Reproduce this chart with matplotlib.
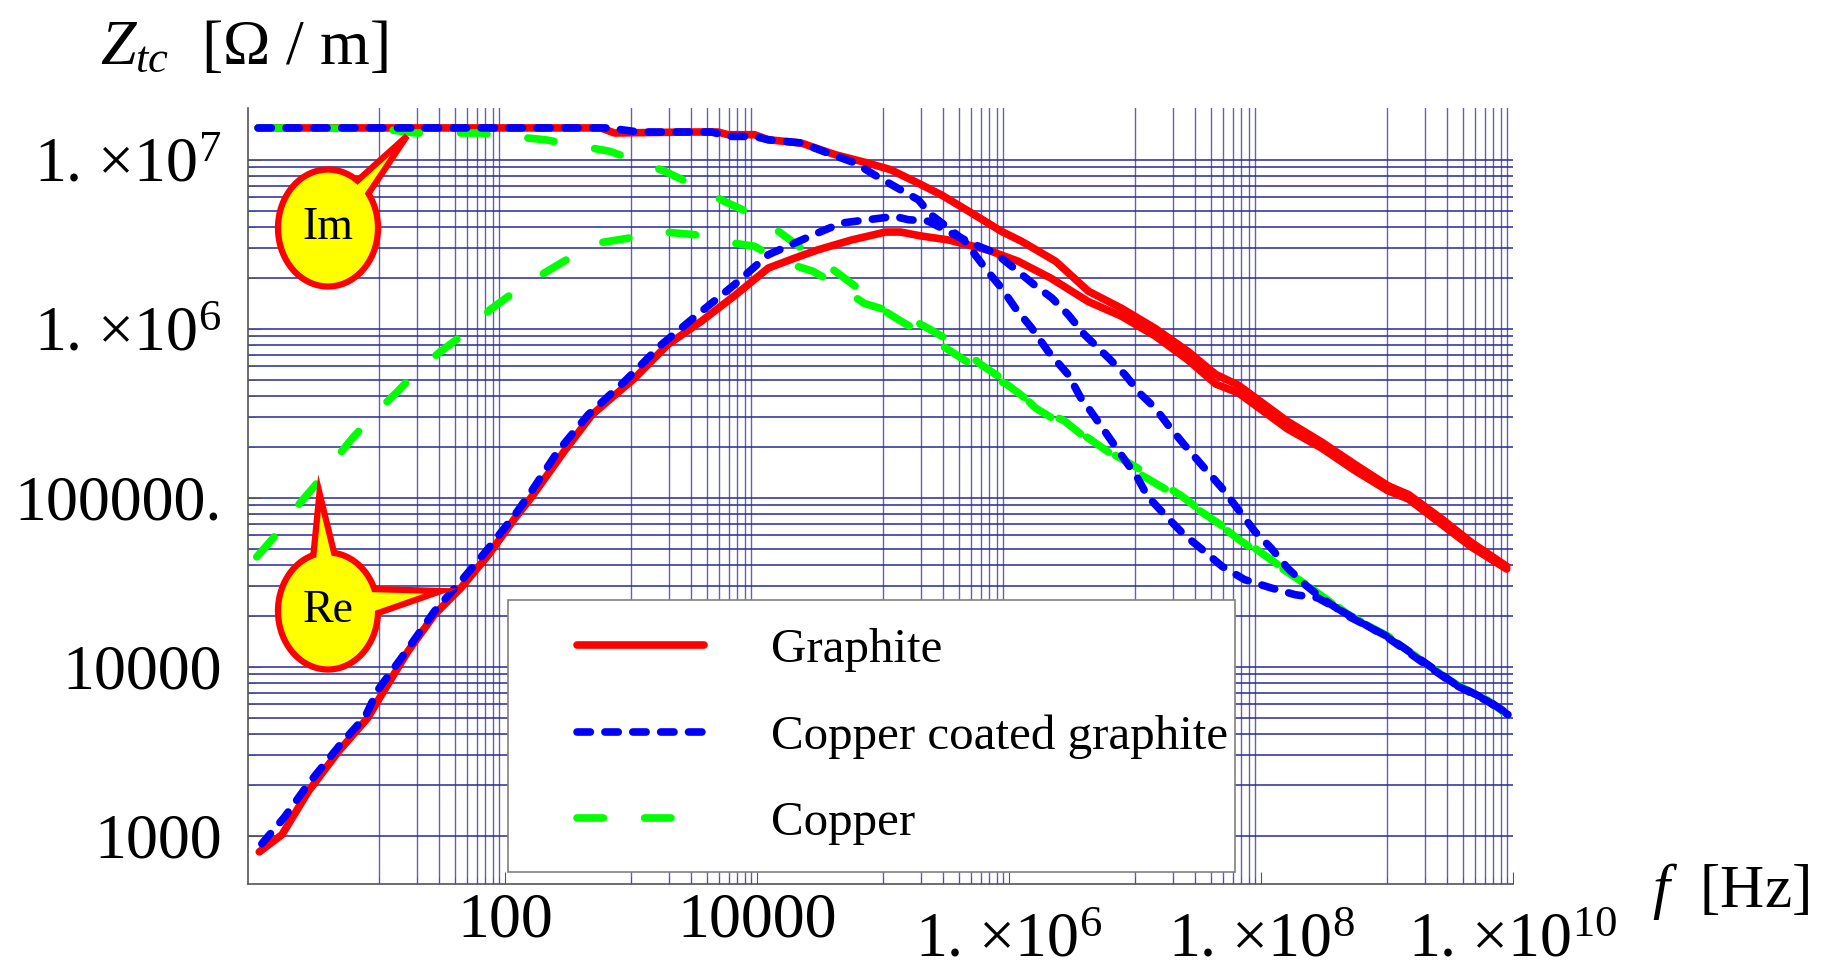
import numpy as np
import matplotlib
matplotlib.use('Agg')
import matplotlib.pyplot as plt
from matplotlib.patches import Polygon, Rectangle
from matplotlib.lines import Line2D
from matplotlib.ticker import NullFormatter
from matplotlib.transforms import Affine2D, blended_transform_factory

plt.rcParams['font.family'] = ['Liberation Serif', 'DejaVu Serif']
plt.rcParams['mathtext.fontset'] = 'custom'
plt.rcParams['mathtext.rm'] = 'Liberation Serif'
plt.rcParams['mathtext.it'] = 'Liberation Serif:italic'

# data, as log10(f [Hz]) and log10(Z [Ohm/m])
graphite_im_logf = [0.04, 2.76, 2.87, 3.47, 3.69, 3.77, 3.98, 4.09, 4.35, 4.62, 4.88, 5.06, 5.25, 5.46,
                    5.68, 5.94, 6.10, 6.37, 6.63, 6.89, 7.16, 7.42, 7.64, 7.82, 8.21, 8.48, 8.75, 9.01,
                    9.17, 9.43, 9.67, 9.95]
graphite_im_logz = [7.188, 7.188, 7.158, 7.164, 7.164, 7.148, 7.148, 7.118, 7.099, 7.030, 6.980, 6.941,
                    6.872, 6.793, 6.695, 6.576, 6.517, 6.399, 6.222, 6.122, 6.002, 5.866, 5.730, 5.666,
                    5.452, 5.330, 5.195, 5.070, 5.019, 4.877, 4.735, 4.594]

graphite_re_logf = [0.05, 0.23, 0.44, 0.68, 0.91, 1.02, 1.23, 1.44, 1.65, 1.87, 2.08, 2.21, 2.47, 2.69,
                    3.03, 3.29, 3.56, 3.83, 4.09, 4.30, 4.48, 4.75, 5.02, 5.14, 5.30, 5.52, 5.68, 5.83,
                    6.07, 6.33, 6.63, 6.89, 7.16, 7.42, 7.64, 7.82, 8.21, 8.48, 8.75, 9.01, 9.17, 9.43,
                    9.67, 9.95]
graphite_re_logz = [2.904, 3.006, 3.263, 3.500, 3.696, 3.834, 4.091, 4.308, 4.466, 4.663, 4.880, 5.003,
                    5.275, 5.491, 5.708, 5.905, 6.045, 6.200, 6.359, 6.418, 6.466, 6.525, 6.572, 6.572,
                    6.549, 6.525, 6.495, 6.466, 6.400, 6.300, 6.160, 6.075, 5.957, 5.815, 5.673, 5.620,
                    5.407, 5.294, 5.158, 5.040, 4.992, 4.844, 4.708, 4.578]

coated_im_logf = [0.04, 2.82, 3.06, 3.29, 3.64, 3.77, 3.98, 4.09, 4.35, 4.56, 4.78, 4.93, 5.09, 5.28,
                  5.38, 5.52, 5.65, 5.73, 5.83, 5.94, 6.05, 6.18, 6.31, 6.47, 6.57, 6.63, 6.76, 6.89,
                  7.02, 7.10, 7.26, 7.39, 7.55, 7.69, 7.87, 8.08, 8.27, 8.45, 8.69, 9.01, 9.27, 9.54,
                  9.80, 9.96]
coated_im_logz = [7.188, 7.188, 7.164, 7.164, 7.164, 7.138, 7.138, 7.118, 7.099, 7.040, 6.980, 6.911,
                  6.843, 6.763, 6.675, 6.596, 6.517, 6.438, 6.340, 6.241, 6.122, 6.004, 5.866, 5.728,
                  5.590, 5.531, 5.393, 5.254, 5.117, 5.008, 4.880, 4.781, 4.683, 4.594, 4.515, 4.466,
                  4.426, 4.407, 4.308, 4.170, 4.032, 3.893, 3.795, 3.716]

coated_re_logf = [0.07, 0.25, 0.44, 0.70, 0.89, 0.99, 1.18, 1.44, 1.65, 1.87, 2.08, 2.21, 2.42, 2.66,
                  2.95, 3.24, 3.56, 3.82, 4.09, 4.30, 4.48, 4.67, 4.88, 4.99, 5.09, 5.20, 5.36, 5.54,
                  5.73, 5.89, 6.07, 6.20, 6.34, 6.47, 6.60, 6.79, 6.92, 7.05, 7.16, 7.26, 7.39, 7.55,
                  7.69, 7.95, 8.08, 8.21, 8.35, 8.48, 8.69, 9.01, 9.27, 9.54, 9.80, 9.96]
coated_re_logz = [2.952, 3.110, 3.307, 3.546, 3.704, 3.861, 4.054, 4.328, 4.506, 4.702, 4.900, 5.038,
                  5.275, 5.491, 5.689, 5.905, 6.103, 6.260, 6.438, 6.507, 6.566, 6.625, 6.645, 6.655,
                  6.665, 6.645, 6.636, 6.566, 6.497, 6.448, 6.340, 6.260, 6.182, 6.083, 5.964, 5.827,
                  5.728, 5.609, 5.531, 5.432, 5.314, 5.176, 5.057, 4.801, 4.702, 4.584, 4.485, 4.407,
                  4.300, 4.176, 4.040, 3.897, 3.800, 3.720]

copper_im_logf = [0.04, 1.00, 1.29, 1.56, 1.81, 2.05, 2.32, 2.54, 2.83, 3.06, 3.27, 3.49, 3.74, 3.94,
                  4.17, 4.35, 4.58, 4.80, 5.00, 5.14, 5.37, 5.56, 5.78, 5.99, 6.23, 6.44, 6.63, 7.02,
                  7.37, 7.84, 8.48, 8.69, 9.01, 9.27, 9.54, 9.80, 9.96]
copper_im_logz = [7.188, 7.185, 7.158, 7.158, 7.158, 7.138, 7.118, 7.089, 7.050, 6.990, 6.931, 6.852,
                  6.754, 6.685, 6.576, 6.478, 6.363, 6.240, 6.110, 6.046, 5.945, 5.856, 5.750, 5.667,
                  5.531, 5.454, 5.341, 5.176, 5.010, 4.744, 4.425, 4.310, 4.176, 4.040, 3.900, 3.795,
                  3.710]

copper_re_logf = [0.03, 0.16, 0.33, 0.49, 0.65, 0.79, 0.97, 1.15, 1.31, 1.49, 1.72, 1.88, 2.10, 2.29,
                  2.51, 2.74, 2.99, 3.21, 3.51, 3.72, 3.98, 4.19, 4.44, 4.64, 4.85, 5.18, 5.38, 5.60,
                  5.78, 6.02, 6.21, 6.47, 6.63, 7.05, 7.37, 7.87, 8.48, 8.69, 9.01, 9.27, 9.54, 9.80,
                  9.96]
copper_re_logz = [4.650, 4.761, 4.931, 5.070, 5.225, 5.353, 5.501, 5.630, 5.757, 5.866, 5.994, 6.112,
                  6.231, 6.320, 6.418, 6.507, 6.537, 6.576, 6.556, 6.517, 6.488, 6.399, 6.341, 6.258,
                  6.150, 6.075, 5.993, 5.898, 5.786, 5.667, 5.531, 5.413, 5.353, 5.134, 4.995, 4.744,
                  4.420, 4.305, 4.180, 4.038, 3.897, 3.800, 3.712]

materials = ['Graphite', 'Copper coated graphite', 'Copper']
x_major = [1e2, 1e4, 1e6, 1e8, 1e10]
x_labels = ['100', '10000', r'1. ×10$^{6}$', r'1. ×10$^{8}$', r'1. ×10$^{10}$']
y_major = [1e3, 1e4, 1e5, 1e6, 1e7]
y_labels = ['1000', '10000', '100000.', r'1. ×10$^{6}$', r'1. ×10$^{7}$']

W, H = 1835, 972
fig = plt.figure(figsize=(W / 100, H / 100), dpi=100)
px = Affine2D().scale(1 / W, -1 / H).translate(0, 1) + fig.transFigure

ax = fig.add_axes([248 / W, 1 - 884 / H, (1513 - 248) / W, (884 - 108) / H])
ax.set_xscale('log')
ax.set_yscale('log')
ax.set_xlim(10 ** (-5 / 126), 1e10)
ax.set_ylim(10 ** 2.714, 10 ** 7.306)

# grid: x lines only in the odd decades, y lines everywhere from 1000 up
x_minor = [m * 10.0 ** k for k in (1, 3, 5, 7, 9) for m in range(1, 10)]
y_minor = [m * 10.0 ** k for k in (3, 4, 5, 6) for m in range(2, 10)]
ax.set_xticks(x_major)
ax.set_xticks(x_minor, minor=True)
ax.set_yticks(y_major, labels=y_labels)
ax.set_yticks(y_minor, minor=True)
ax.xaxis.set_major_formatter(NullFormatter())
ax.xaxis.set_minor_formatter(NullFormatter())
ax.yaxis.set_minor_formatter(NullFormatter())
ax.grid(True, which='minor', axis='x', color='#6262ae', lw=1.0)
ax.grid(True, which='both', axis='y', color='#2a2a96', lw=1.1)
ax.set_axisbelow(True)

for s in ('top', 'right'):
    ax.spines[s].set_visible(False)
for s in ('left', 'bottom'):
    ax.spines[s].set_color('#555555')
    ax.spines[s].set_linewidth(1.2)
ax.tick_params(which='both', direction='in', color='#555555', labelsize=46)
ax.tick_params(which='major', length=9)
ax.tick_params(which='minor', length=5)
ax.tick_params(axis='y', pad=19)

# x tick labels: plain numbers sit higher than the 1.x10^n ones
xlab_tr = blended_transform_factory(ax.transData, px)
for v, lbl in zip(x_major, x_labels):
    ax.text(v, 936 if '$' not in lbl else 956, lbl, transform=xlab_tr, ha='center', va='baseline',
            fontsize=46, clip_on=False)

lw = 5.5
red = dict(color='#ff0000', lw=lw, solid_capstyle='round', solid_joinstyle='round')
blue = dict(color='#0000ff', lw=lw, dashes=(1.75, 1.9), dash_capstyle='round', dash_joinstyle='round')
green = dict(color='#00ff00', lw=lw, dashes=(3.45, 5.4), dash_capstyle='round', dash_joinstyle='round')


def pl(lf, lz, st):
    ax.plot(10 ** np.array(lf), 10 ** np.array(lz), **st)


pl(graphite_re_logf, graphite_re_logz, red)
pl(graphite_im_logf, graphite_im_logz, red)
pl(copper_re_logf, copper_re_logz, green)
pl(copper_im_logf, copper_im_logz, green)
pl(coated_re_logf, coated_re_logz, blue)
pl(coated_im_logf, coated_im_logz, blue)

# legend with a hand-drawn frame
handles = [Line2D([], [], **red), Line2D([], [], **blue), Line2D([], [], **green)]
ax.add_artist(Rectangle((508, 600), 727, 271.5, transform=px, fc='white', ec='#808080',
                        lw=1.2, zorder=4, clip_on=False))
ax.legend(handles, materials, loc='upper left', bbox_to_anchor=(577 / W, 1 - 628 / H),
          bbox_transform=fig.transFigure, frameon=False, borderpad=0, borderaxespad=0,
          handlelength=2.6, handletextpad=1.35, labelspacing=0.86,
          prop={'family': 'Liberation Serif', 'size': 35.3})


def bubble(cx, cy, a, b, pointers):
    ptrs = sorted(pointers)
    pts = []
    for i, (a1, a2, tx, ty) in enumerate(ptrs):
        nxt = ptrs[(i + 1) % len(ptrs)][0]
        if nxt <= a2:
            nxt += 360
        th = np.radians(np.linspace(a2, nxt, 120))
        pts.append((tx, ty))
        pts.extend(zip(cx + a * np.cos(th), cy + b * np.sin(th)))
    return pts


for (cx, cy, ptrs, txt) in [(328, 228, [(-54, -36, 407, 136)], 'Im'),
                            (328, 611, [(-107, -83, 319.5, 493), (-22, 2, 441, 591)], 'Re')]:
    ax.add_artist(Polygon(bubble(cx, cy, 50, 58.5, ptrs), closed=True, transform=px, fc='#ffff00',
                          ec='#ff0000', lw=4.5, joinstyle='miter', zorder=6, clip_on=False))
    ax.text(cx, cy, txt, transform=px, ha='center', va='center', fontsize=33, zorder=7)

fig.text(99.5 / W, 1 - 64 / H, r'$Z_{tc}$  [Ω / m]', fontsize=46, ha='left', va='baseline')
fig.text(1652 / W, 1 - 907 / H, r'$f$  [Hz]', fontsize=44, ha='left', va='baseline')

fig.savefig('out.png', dpi=100)
